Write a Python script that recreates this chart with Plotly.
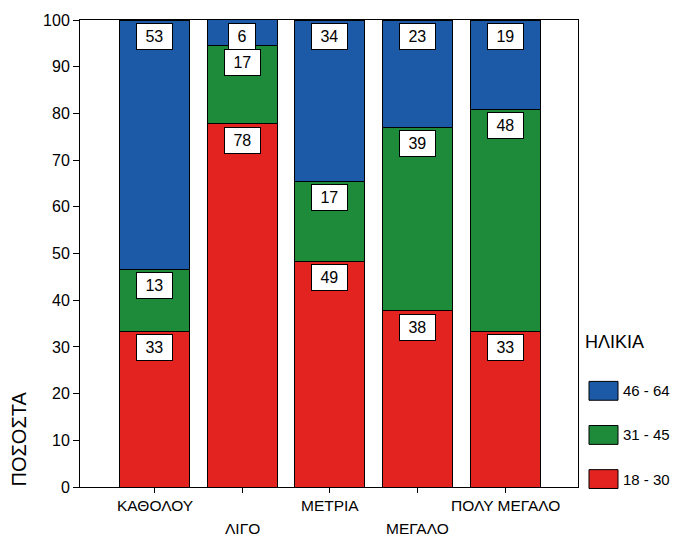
import plotly.graph_objects as go

categories = ["ΚΑΘΟΛΟΥ", "ΛΙΓΟ", "ΜΕΤΡΙΑ", "ΜΕΓΑΛΟ", "ΠΟΛΥ ΜΕΓΑΛΟ"]
series_names = ["18 - 30", "31 - 45", "46 - 64"]
pct_18_30 = [33.3, 77.8, 48.3, 37.7, 33.3]
pct_31_45 = [13.3, 16.7, 17.2, 39.3, 47.6]
pct_46_64 = [53.4, 5.6, 34.5, 23.0, 19.1]
lbl_18_30 = ["33", "78", "49", "38", "33"]
lbl_31_45 = ["13", "17", "17", "39", "48"]
lbl_46_64 = ["53", "6", "34", "23", "19"]
colors = ["#e2231f", "#1e8b3a", "#1c5aa8"]
y_ticks = list(range(0, 101, 10))

series = [pct_18_30, pct_31_45, pct_46_64]
labels = [lbl_18_30, lbl_31_45, lbl_46_64]
FONT = "Liberation Sans, Arial, sans-serif"

fig = go.Figure()
for name, vals, col in zip(series_names, series, colors):
    fig.add_trace(go.Bar(x=list(range(len(categories))), y=vals, name=name,
                         marker=dict(color=col, line=dict(color="black", width=1)),
                         showlegend=False, hoverinfo="skip"))

annotations = []
cum = [0.0] * len(categories)
for vals, lbls in zip(series, labels):
    for i, (v, t) in enumerate(zip(vals, lbls)):
        cum[i] += v
        annotations.append(dict(x=i, y=min(cum[i], 100), xref="x", yref="y",
                                text=" " + t + " ", showarrow=False, yanchor="top",
                                yshift=-3, bgcolor="white", bordercolor="black",
                                borderwidth=1, borderpad=4,
                                font=dict(family=FONT, size=16, color="black")))

# category labels, staggered in two rows
for i, c in enumerate(categories):
    annotations.append(dict(x=i, y=0, xref="x", yref="paper", text=c, showarrow=False,
                            yanchor="top", yshift=-8 if i % 2 == 0 else -31,
                            font=dict(family=FONT, size=15.5, color="black")))

# y-axis title
annotations.append(dict(x=0, y=0, xref="paper", yref="paper", text="ΠΟΣΟΣΤΑ",
                        textangle=-90, showarrow=False, xanchor="center", yanchor="bottom",
                        xshift=-62, yshift=-2,
                        font=dict(family=FONT, size=20, color="black")))

# legend
annotations.append(dict(x=1, y=0, xref="paper", yref="paper", text="ΗΛΙΚΙΑ", showarrow=False,
                        xanchor="left", yanchor="middle", xshift=5, yshift=145,
                        font=dict(family=FONT, size=18, color="black")))
shapes = []
legend_order = [2, 1, 0]
for k, si in enumerate(legend_order):
    yc = 97 - 44.5 * k  # pixels above plot bottom
    annotations.append(dict(x=1, y=0, xref="paper", yref="paper", text=series_names[si],
                            showarrow=False, xanchor="left", yanchor="middle",
                            xshift=43, yshift=yc,
                            font=dict(family=FONT, size=15, color="black")))
plot_h = 487 - 16
plot_w = 578 - 80
for k, si in enumerate(legend_order):
    yc = 97 - 44.5 * k
    shapes.append(dict(type="rect", xref="paper", yref="paper",
                       x0=1 + 11 / plot_w, x1=1 + 40 / plot_w,
                       y0=(yc - 9.5) / plot_h, y1=(yc + 9.5) / plot_h,
                       fillcolor=colors[si], line=dict(color="black", width=1)))

fig.update_layout(
    barmode="stack", bargap=0.2,
    width=675, height=538,
    margin=dict(l=80, r=97, t=16, b=51),
    paper_bgcolor="white", plot_bgcolor="white",
    annotations=annotations, shapes=shapes,
    font=dict(family=FONT, size=15, color="black"),
    xaxis=dict(range=[-0.85, 4.83], tickmode="array", tickvals=list(range(len(categories))),
               ticktext=[""] * len(categories), ticks="outside", ticklen=5, tickcolor="black",
               showline=True, linecolor="black", linewidth=1, mirror=True, showgrid=False,
               zeroline=False),
    yaxis=dict(range=[0, 100], tickmode="array", tickvals=y_ticks,
               ticktext=[str(v) for v in y_ticks], ticks="outside", ticklen=6,
               tickcolor="black", showline=True, linecolor="black", linewidth=1,
               mirror=True, showgrid=False, zeroline=False,
               tickfont=dict(family=FONT, size=16, color="black")),
)

fig.write_html("out.html", config={"displayModeBar": False},
               post_script="document.body.style.margin='0';document.body.style.overflow='hidden';")
